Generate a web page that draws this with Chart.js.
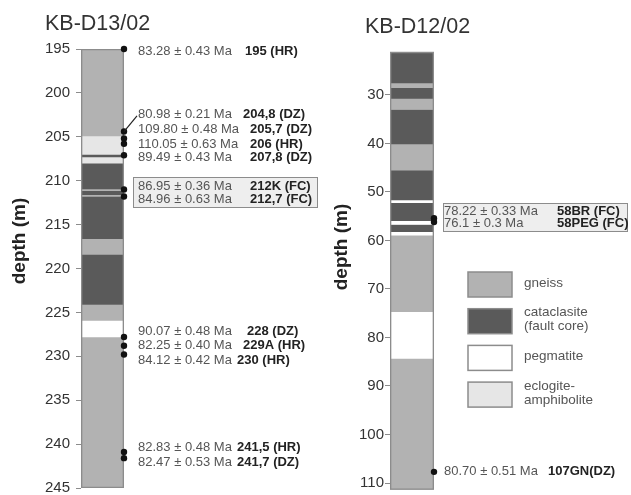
<!DOCTYPE html>
<html>
<head>
<meta charset="utf-8">
<script src="https://cdn.jsdelivr.net/npm/chart.js@4.4.1/dist/chart.umd.min.js"></script>
<style>
  html, body { margin: 0; padding: 0; background: #fff; overflow: hidden; }
  #wrap { position: relative; width: 631px; height: 495px; }
  canvas { position: absolute; top: 0; }
  #d13 { left: 0; }
  #d12 { left: 330px; }
</style>
</head>
<body>
<div id="wrap">
  <canvas id="d13" width="330" height="495"></canvas>
  <canvas id="d12" width="301" height="495"></canvas>
</div>
<script>
const FONT = '"Liberation Sans", Arial, sans-serif';
Chart.defaults.font.family = FONT;

// rock types, colours and legend text
const rockTypes = ['gneiss', 'cataclasite', 'pegmatite', 'eclogite'];
const rockLegend = [['gneiss'], ['cataclasite', '(fault core)'], ['pegmatite'], ['eclogite-', 'amphibolite']];
const rockColors = { gneiss: '#b2b2b2', cataclasite: '#5a5a5a', pegmatite: '#ffffff', eclogite: '#e6e6e6' };

// KB-D13/02 lithology (depth in m)
const d13Tops    = [195, 204.9, 207.0, 207.3, 208.0, 210.95, 211.13, 211.6, 211.78, 216.6, 218.4, 224.1, 225.9, 227.8];
const d13Bottoms = [204.9, 207.0, 207.3, 208.0, 210.95, 211.13, 211.6, 211.78, 216.6, 218.4, 224.1, 225.9, 227.8, 245];
const d13Rocks   = ['gneiss', 'eclogite', 'cataclasite', 'eclogite', 'cataclasite', 'gneiss', 'cataclasite', 'gneiss',
                    'cataclasite', 'gneiss', 'cataclasite', 'gneiss', 'pegmatite', 'gneiss'];

// KB-D13/02 dated samples
const d13SampleDepths = [195, 204.4, 205.2, 205.8, 207.1, 211.0, 211.8, 227.8, 228.8, 229.8, 240.9, 241.6];
const d13Ages = ['83.28 ± 0.43 Ma', '80.98 ± 0.21 Ma', '109.80 ± 0.48 Ma', '110.05 ± 0.63 Ma', '89.49 ± 0.43 Ma',
                 '86.95 ± 0.36 Ma', '84.96 ± 0.63 Ma', '90.07 ± 0.48 Ma', '82.25 ± 0.40 Ma', '84.12 ± 0.42 Ma',
                 '82.83 ± 0.48 Ma', '82.47 ± 0.53 Ma'];
const d13Samples = ['195 (HR)', '204,8 (DZ)', '205,7 (DZ)', '206 (HR)', '207,8 (DZ)', '212K (FC)', '212,7 (FC)',
                    '228 (DZ)', '229A (HR)', '230 (HR)', '241,5 (HR)', '241,7 (DZ)'];

// KB-D12/02 lithology (depth in m)
const d12Tops    = [21.1, 27.5, 28.5, 30.7, 33.0, 40.1, 45.5, 51.65, 52.2, 55.9, 56.7, 58.2, 58.9, 74.7, 84.3];
const d12Bottoms = [27.5, 28.5, 30.7, 33.0, 40.1, 45.5, 51.65, 52.2, 55.9, 56.7, 58.2, 58.9, 74.7, 84.3, 111.4];
const d12Rocks   = ['cataclasite', 'gneiss', 'cataclasite', 'gneiss', 'cataclasite', 'gneiss', 'cataclasite', 'pegmatite',
                    'cataclasite', 'pegmatite', 'cataclasite', 'pegmatite', 'gneiss', 'pegmatite', 'gneiss'];

// KB-D12/02 dated samples
const d12SampleDepths = [55.4, 56.2, 107.7];
const d12Ages = ['78.22 ± 0.33 Ma', '76.1 ± 0.3 Ma', '80.70 ± 0.51 Ma'];
const d12Samples = ['58BR (FC)', '58PEG (FC)', '107GN(DZ)'];

// where the label rows sit along the depth axis, and the x offset of the bold sample name
const d13LabelAt = [195.3, 202.5, 204.2, 205.9, 207.3, 210.6, 212.1, 227.2, 228.8, 230.5, 240.4, 242.1];
const d13NameDx  = [121, 119, 126, 126, 126, 126, 126, 123, 119, 113, 113, 113];
const d12LabelAt = [54.1, 56.4, 107.7];
const d12NameDx  = [123, 123, 114];

const layerSets = (tops, bottoms, rocks) => tops.map((t, i) => ({
  type: 'bar',
  data: [{ x: 0.5, y: [t, bottoms[i]] }],
  backgroundColor: rockColors[rocks[i]],
  borderWidth: 0,
  order: 3
}));

const logText = {
  id: 'logText',
  afterDraw(chart, args, o) {
    const { ctx, chartArea: area } = chart;
    const y = chart.scales.y;
    ctx.save();
    ctx.textBaseline = 'middle';
    ctx.textAlign = 'left';

    ctx.fillStyle = '#333';
    ctx.font = '21.5px ' + FONT;
    ctx.fillText(o.title, o.titleX, o.titleY);

    ctx.save();
    ctx.translate(o.depthX, o.depthY);
    ctx.rotate(-Math.PI / 2);
    ctx.textAlign = 'center';
    ctx.font = 'bold 19px ' + FONT;
    ctx.fillStyle = '#222';
    ctx.fillText('depth (m)', 0, 0);
    ctx.restore();

    // fault core samples are framed
    const fc = o.names.map((n, i) => n.includes('(FC)') ? y.getPixelForValue(o.labelAt[i]) : null)
      .filter(v => v !== null);
    if (fc.length) {
      const top = Math.round(Math.min(...fc) - 8.5);
      const bottom = Math.round(Math.max(...fc) + 7.5);
      ctx.fillStyle = '#eeeeee';
      ctx.fillRect(area.right + 9, top, 184, bottom - top);
      ctx.strokeStyle = '#8c8c8c';
      ctx.lineWidth = 1;
      ctx.strokeRect(Math.round(area.right) + 9.5, top + 0.5, 184, bottom - top);
    }

    (o.leaders || []).forEach(i => {
      ctx.beginPath();
      ctx.moveTo(area.right, y.getPixelForValue(o.depths[i]));
      ctx.lineTo(area.right + 13, y.getPixelForValue(o.labelAt[i]) + 1);
      ctx.strokeStyle = '#222';
      ctx.lineWidth = 1.2;
      ctx.stroke();
    });

    o.ages.forEach((age, i) => {
      const ly = y.getPixelForValue(o.labelAt[i]);
      ctx.font = '13px ' + FONT;
      ctx.fillStyle = '#555';
      ctx.fillText(age, area.right + o.ageDx, ly);
      ctx.font = 'bold 13px ' + FONT;
      ctx.fillStyle = '#222';
      ctx.fillText(o.names[i], area.right + o.nameDx[i], ly);
    });

    if (o.legend) {
      rockTypes.forEach((r, i) => {
        const top = 272 + i * 36.7;
        ctx.fillStyle = rockColors[r];
        ctx.fillRect(area.right + 34, top, 44, 25);
        ctx.strokeStyle = '#8c8c8c';
        ctx.lineWidth = 1.5;
        ctx.strokeRect(area.right + 34, top, 44, 25);
        ctx.font = '13.5px ' + FONT;
        ctx.fillStyle = '#555';
        const lines = rockLegend[i];
        lines.forEach((t, k) => {
          ctx.fillText(t, area.right + 90, top + 11 + (k - (lines.length - 1) / 2) * 14);
        });
      });
    }
    ctx.restore();
  }
};

function logChart(el, cfg) {
  return new Chart(el, {
    type: 'bar',
    data: {
      datasets: [
        {
          type: 'scatter',
          data: cfg.depths.map(d => ({ x: 1, y: d })),
          pointRadius: 3.2,
          pointBackgroundColor: '#111',
          pointBorderWidth: 0,
          clip: false,
          order: 0
        },
        {
          type: 'bar',
          data: [{ x: 0.5, y: [cfg.min, cfg.max] }],
          backgroundColor: 'rgba(0,0,0,0)',
          borderColor: '#8c8c8c',
          borderWidth: 1,
          order: 1
        },
        ...layerSets(cfg.tops, cfg.bottoms, cfg.rocks)
      ]
    },
    options: {
      responsive: false,
      animation: false,
      events: [],
      layout: { padding: cfg.padding },
      datasets: { bar: { grouped: false, barThickness: cfg.width, borderSkipped: false } },
      scales: {
        x: { type: 'linear', min: 0, max: 1, offset: false, display: false },
        y: {
          reverse: true,
          min: cfg.min,
          max: cfg.max,
          afterFit: s => { s.width = cfg.axisWidth; s.paddingTop = 0; s.paddingBottom = 0; },
          border: { display: false },
          grid: { drawOnChartArea: false, tickLength: 5, color: '#8c8c8c' },
          ticks: { stepSize: cfg.step, includeBounds: false, padding: cfg.tickPad, color: '#333', font: { size: 15 } }
        }
      },
      plugins: {
        legend: { display: false },
        tooltip: { enabled: false },
        logText: cfg.text
      }
    },
    plugins: [logText]
  });
}

logChart(document.getElementById('d13'), {
  tops: d13Tops, bottoms: d13Bottoms, rocks: d13Rocks, depths: d13SampleDepths,
  min: 195, max: 245, step: 5, width: 43, axisWidth: 81, tickPad: 6,
  padding: { top: 49, bottom: 7, left: 0, right: 206 },
  text: {
    title: 'KB-D13/02', titleX: 45, titleY: 24.5, depthX: 19.5, depthY: 241,
    ages: d13Ages, names: d13Samples, depths: d13SampleDepths, labelAt: d13LabelAt,
    nameDx: d13NameDx, ageDx: 14, leaders: [1], legend: false
  }
});

logChart(document.getElementById('d12'), {
  tops: d12Tops, bottoms: d12Bottoms, rocks: d12Rocks, depths: d12SampleDepths,
  min: 21.1, max: 111.4, step: 10, width: 44, axisWidth: 60, tickPad: 1,
  padding: { top: 51.8, bottom: 5.2, left: 0, right: 197 },
  text: {
    title: 'KB-D12/02', titleX: 35, titleY: 27.5, depthX: 11.5, depthY: 247,
    ages: d12Ages, names: d12Samples, depths: d12SampleDepths, labelAt: d12LabelAt,
    nameDx: d12NameDx, ageDx: 10, legend: true
  }
});
</script>
</body>
</html>
